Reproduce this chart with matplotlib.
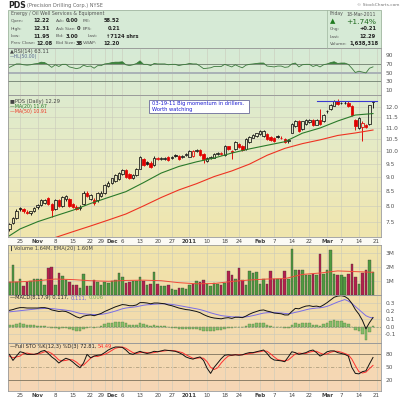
import numpy as np
import pandas as pd
import matplotlib
matplotlib.use('Agg')
import matplotlib.pyplot as plt
from matplotlib.patches import Rectangle

plt.rcParams['font.family'] = ['DejaVu Sans']

# trading calendar Oct 20 2010 .. Mar 21 2011 (Mar 21 only carries the last tick)
holidays = ['2010-11-25', '2010-12-24', '2011-01-17', '2011-02-21']
days = pd.bdate_range('2010-10-20', '2011-03-21', freq='C', holidays=holidays)

tick_dates = ['2010-10-25', '2010-11-01', '2010-11-08', '2010-11-15', '2010-11-22', '2010-11-29',
              '2010-12-01', '2010-12-06', '2010-12-13', '2010-12-20', '2010-12-27', '2011-01-03',
              '2011-01-10', '2011-01-18', '2011-01-24', '2011-02-01', '2011-02-07', '2011-02-14',
              '2011-02-22', '2011-03-01', '2011-03-07', '2011-03-14', '2011-03-21']
tick_labels = ['25', 'Nov', '8', '15', '22', '29', 'Dec', '6', '13', '20', '27', '2011',
               '10', '18', '24', 'Feb', '7', '14', '22', 'Mar', '7', '14', '21']
bold_labels = ['Nov', 'Dec', '2011', 'Feb', 'Mar']

# daily OHLC, Oct 20 .. Mar 18
opens = [7.27, 7.46, 7.62,
         7.93, 7.90, 7.80, 7.76, 7.84, 7.95, 8.04, 8.10, 8.26, 8.05,
         7.90, 8.20, 8.00, 8.22, 8.22, 8.06, 7.98, 7.92, 8.05, 8.45,
         8.22, 8.20, 8.18, 8.32, 8.42, 8.68, 8.78, 8.85, 8.92, 9.10,
         9.26, 9.10, 8.98, 9.08, 9.32, 9.70, 9.58, 9.55, 9.45, 9.68,
         9.70, 9.70, 9.78, 9.74, 9.86, 9.82, 9.78, 9.85, 9.78, 9.80,
         10.02, 10.04, 9.90, 9.62, 9.72, 9.74, 9.88, 9.90, 9.85, 10.20,
         10.02, 10.10, 10.32, 10.22, 10.10, 10.38, 10.58, 10.66, 10.73, 10.63,
         10.73, 10.62, 10.58, 10.66, 10.55, 10.52, 10.42, 10.80, 11.10, 11.32,
         10.95, 11.18, 11.28, 11.35, 11.15, 11.38, 11.30, 11.80, 11.90, 12.05,
         12.27, 12.20, 12.18, 12.20, 12.05, 11.38, 10.98, 11.05, 11.12, 11.20, 12.22]
highs = [7.45, 7.66, 7.90,
         7.98, 7.94, 7.86, 7.85, 7.96, 8.05, 8.24, 8.22, 8.30, 8.08,
         8.22, 8.24, 8.34, 8.36, 8.26, 8.10, 8.02, 8.02, 8.50, 8.52,
         8.40, 8.26, 8.48, 8.50, 8.76, 8.85, 8.98, 9.12, 9.20, 9.32,
         9.30, 9.14, 9.10, 9.34, 9.82, 9.74, 9.62, 9.60, 9.80, 9.78,
         9.76, 9.78, 9.82, 9.82, 9.90, 9.86, 9.86, 9.94, 10.06, 10.04,
         10.10, 10.08, 9.94, 9.76, 9.80, 9.94, 9.96, 9.96, 10.28, 10.24,
         10.06, 10.42, 10.36, 10.26, 10.54, 10.64, 10.72, 10.80, 10.90, 10.92,
         10.78, 10.66, 10.62, 10.70, 10.64, 10.56, 10.52, 11.22, 11.36, 11.36,
         11.34, 11.42, 11.42, 11.40, 11.40, 11.90, 11.66, 11.86, 12.14, 12.32,
         12.38, 12.24, 12.26, 12.26, 12.08, 11.42, 11.50, 11.30, 11.18, 12.10, 12.31]
lows = [7.22, 7.44, 7.58,
        7.84, 7.78, 7.74, 7.72, 7.80, 7.90, 8.00, 8.06, 8.02, 7.65,
        7.86, 7.96, 7.96, 8.16, 7.96, 7.94, 7.86, 7.88, 8.02, 8.28,
        8.18, 8.04, 8.14, 8.28, 8.40, 8.64, 8.74, 8.82, 8.90, 9.06,
        8.98, 8.94, 8.92, 9.04, 9.30, 9.42, 9.44, 9.34, 9.42, 9.64,
        9.66, 9.66, 9.62, 9.70, 9.78, 9.66, 9.74, 9.82, 9.76, 9.78,
        9.96, 9.82, 9.55, 9.58, 9.68, 9.72, 9.84, 9.86, 9.82, 10.06,
        9.70, 10.06, 10.12, 10.00, 10.06, 10.34, 10.54, 10.62, 10.70, 10.60,
        10.48, 10.44, 10.40, 10.58, 10.50, 10.34, 10.36, 10.76, 11.06, 10.84,
        10.90, 11.14, 11.24, 11.10, 11.12, 11.14, 11.26, 11.72, 11.86, 12.02,
        12.08, 12.12, 12.14, 12.00, 11.56, 10.90, 10.95, 10.45, 10.98, 11.15, 11.95]
closes = [7.42, 7.62, 7.85,
          7.90, 7.82, 7.78, 7.82, 7.92, 8.02, 8.18, 8.18, 8.05, 7.88,
          8.18, 8.00, 8.30, 8.32, 8.00, 7.98, 7.90, 7.98, 8.45, 8.32,
          8.35, 8.08, 8.45, 8.45, 8.72, 8.80, 8.95, 9.08, 9.15, 9.26,
          9.02, 8.98, 9.06, 9.30, 9.77, 9.45, 9.48, 9.38, 9.75, 9.72,
          9.72, 9.73, 9.65, 9.78, 9.82, 9.70, 9.82, 9.90, 10.02, 10.00,
          10.06, 9.86, 9.68, 9.72, 9.76, 9.90, 9.93, 9.92, 10.24, 10.10,
          9.97, 10.38, 10.17, 10.04, 10.50, 10.60, 10.68, 10.78, 10.86, 10.88,
          10.52, 10.48, 10.45, 10.62, 10.58, 10.38, 10.48, 11.17, 11.32, 10.88,
          11.30, 11.38, 11.38, 11.13, 11.35, 11.17, 11.62, 11.78, 12.10, 12.28,
          12.12, 12.18, 12.20, 12.05, 11.60, 11.10, 11.45, 11.22, 11.05, 12.08, 12.29]
volume_m = [0.93, 2.10, 0.93,
            1.10, 0.65, 0.92, 0.95, 1.15, 1.15, 1.15, 0.70, 1.90, 1.95,
            0.70, 1.55, 1.35, 1.05, 0.90, 0.70, 0.70, 0.45, 1.45, 0.65,
            0.65, 1.05, 0.90, 0.70, 0.90, 0.85, 0.95, 1.05, 1.55, 1.30,
            0.85, 0.90, 0.95, 1.00, 1.30, 0.95, 0.70, 0.80, 1.65, 0.80,
            0.65, 0.60, 0.70, 0.40, 0.35, 0.45, 0.50, 0.42, 0.70, 0.80,
            1.00, 0.93, 1.05, 0.80, 0.60, 0.85, 0.75, 0.70, 0.85, 1.70,
            1.40, 1.10, 1.90, 1.05, 0.70, 1.70, 1.55, 1.60, 0.80, 1.10,
            0.75, 1.70, 1.15, 1.10, 1.15, 1.70, 1.15, 3.30, 1.80, 1.75,
            1.75, 1.40, 1.40, 1.50, 1.40, 2.90, 1.50, 1.75, 3.20, 1.50,
            1.40, 1.40, 1.30, 1.50, 2.20, 1.30, 0.76, 1.57, 1.76, 2.50, 1.64]
rsi = [62, 66, 70,
       70, 68, 67, 68, 70, 71, 74, 73, 68, 62,
       68, 64, 69, 69, 63, 61, 59, 61, 67, 64,
       65, 60, 66, 66, 70, 71, 73, 74, 74, 75,
       68, 66, 68, 71, 77, 69, 69, 66, 71, 70,
       70, 70, 68, 69, 69, 66, 68, 69, 71, 70,
       70, 65, 59, 60, 61, 64, 64, 64, 69, 66,
       63, 68, 64, 61, 67, 69, 70, 71, 72, 72,
       65, 64, 63, 65, 65, 62, 63, 70, 72, 63,
       68, 69, 69, 64, 67, 63, 68, 70, 73, 75,
       71, 72, 72, 69, 60, 50, 53, 51, 49, 60, 63.11]
macd = [0.210, 0.220, 0.235,
        0.245, 0.245, 0.240, 0.240, 0.240, 0.240, 0.245, 0.245, 0.235, 0.215,
        0.205, 0.195, 0.200, 0.195, 0.175, 0.150, 0.125, 0.110, 0.135, 0.145,
        0.150, 0.140, 0.155, 0.170, 0.195, 0.215, 0.235, 0.255, 0.270, 0.285,
        0.280, 0.270, 0.270, 0.280, 0.310, 0.310, 0.305, 0.295, 0.305, 0.305,
        0.300, 0.295, 0.280, 0.270, 0.255, 0.240, 0.230, 0.220, 0.215, 0.205,
        0.195, 0.180, 0.155, 0.135, 0.120, 0.110, 0.105, 0.100, 0.110, 0.115,
        0.105, 0.120, 0.120, 0.115, 0.135, 0.160, 0.180, 0.195, 0.210, 0.215,
        0.200, 0.190, 0.175, 0.170, 0.165, 0.150, 0.150, 0.195, 0.235, 0.230,
        0.250, 0.265, 0.270, 0.260, 0.265, 0.255, 0.280, 0.310, 0.345, 0.380,
        0.395, 0.400, 0.390, 0.360, 0.300, 0.220, 0.160, 0.080, -0.030, 0.050, 0.117]
signal = [0.190, 0.195, 0.200,
          0.205, 0.210, 0.215, 0.220, 0.225, 0.230, 0.232, 0.235, 0.235, 0.232,
          0.228, 0.222, 0.218, 0.212, 0.205, 0.195, 0.183, 0.170, 0.165, 0.160,
          0.158, 0.155, 0.155, 0.158, 0.165, 0.175, 0.187, 0.200, 0.215, 0.230,
          0.240, 0.246, 0.251, 0.257, 0.267, 0.276, 0.282, 0.285, 0.289, 0.292,
          0.294, 0.294, 0.291, 0.287, 0.280, 0.272, 0.264, 0.255, 0.247, 0.238,
          0.230, 0.220, 0.207, 0.193, 0.178, 0.165, 0.153, 0.142, 0.136, 0.132,
          0.126, 0.125, 0.124, 0.122, 0.125, 0.132, 0.142, 0.152, 0.164, 0.174,
          0.179, 0.181, 0.180, 0.178, 0.175, 0.170, 0.166, 0.172, 0.184, 0.193,
          0.205, 0.217, 0.228, 0.234, 0.240, 0.243, 0.250, 0.262, 0.279, 0.299,
          0.318, 0.334, 0.350, 0.330, 0.300, 0.260, 0.220, 0.180, 0.140, 0.120, 0.111]
sto_k = [80, 66, 76,
         86, 84, 80, 80, 80, 82, 87, 89, 82, 74,
         68, 60, 66, 71, 68, 62, 55, 49, 60, 80,
         72, 76, 78, 79, 84, 90, 94, 97, 97, 96,
         90, 82, 80, 84, 87, 84, 82, 84, 87, 86,
         88, 90, 89, 88, 87, 84, 80, 74, 71, 69,
         72, 74, 66, 48, 36, 50, 60, 70, 78, 79,
         78, 79, 78, 79, 82, 84, 84, 86, 88, 90,
         82, 72, 67, 66, 65, 63, 74, 86, 84, 80,
         82, 84, 88, 90, 84, 76, 80, 86, 88, 88,
         84, 82, 80, 76, 50, 36, 35, 40, 42, 58, 72.81]
sto_d = [76, 72, 74,
         76, 82, 83, 81, 80, 81, 83, 86, 86, 82,
         75, 67, 65, 66, 68, 67, 62, 55, 55, 63,
         71, 76, 75, 78, 80, 84, 89, 94, 96, 97,
         94, 89, 84, 82, 84, 85, 84, 83, 84, 86,
         87, 88, 89, 89, 88, 86, 84, 79, 75, 71,
         71, 72, 71, 63, 50, 45, 49, 60, 69, 76,
         78, 79, 79, 79, 80, 82, 83, 85, 86, 88,
         87, 81, 74, 68, 66, 65, 67, 74, 81, 83,
         82, 82, 85, 87, 87, 83, 80, 81, 85, 87,
         87, 85, 82, 79, 69, 54, 40, 37, 39, 47, 54.49]

# smooth overlays read every 5 trading days (day positions from Oct 20)
sample_pos = [0] + list(range(3, 104, 5))
ma20 = [7.08, 7.28, 7.50, 7.68, 7.86, 8.08, 8.28, 8.48, 8.80, 9.15, 9.40,
        9.58, 9.73, 9.93, 10.10, 10.25, 10.40, 10.77, 11.00, 11.32, 11.60, 11.67]
ma50 = [7.03, 7.20, 7.37, 7.55, 7.74, 8.00, 8.28, 8.54, 8.76, 9.02,
        9.23, 9.49, 9.84, 10.12, 10.32, 10.48, 10.67, 10.78, 10.91]
vol_ema = [0.90, 0.92, 1.00, 1.12, 1.08, 1.00, 0.96, 1.02, 1.04, 1.00, 0.86,
           0.78, 0.80, 0.95, 1.05, 1.12, 1.15, 1.45, 1.55, 1.70, 1.65, 1.60]

info_left = [('Open:', '12.22', 'Ask:', '0.00', 'P/E:', '58.52'),
             ('High:', '12.31', 'Ask Size:', '0', 'EPS:', '0.21'),
             ('Low:', '11.95', 'Bid:', '3.00', 'Last:', '\u21917124 shrs'),
             ('Prev Close:', '12.08', 'Bid Size:', '38', 'VWAP:', '12.20')]
info_right = [('Chg:', '+0.21'), ('Last:', '12.29'), ('Volume:', '1,638,318')]

# ---------------------------------------------------------------------------
W = H = 400
fig = plt.figure(figsize=(4, 4), dpi=100)
fig.patch.set_facecolor('white')
renderer = fig.canvas.get_renderer()


def rect(x0, y0, x1, y1):
    return [x0 / W, 1 - y1 / H, (x1 - x0) / W, (y1 - y0) / H]


def ftext(x, y, s, **kw):
    kw.setdefault('fontsize', 3.7)
    kw.setdefault('va', 'center')
    return fig.text(x / W, 1 - y / H, s, **kw)


def width(t):
    return t.get_window_extent(renderer).width


def seq_text(x, y, parts, **kw):
    # pieces of one legend line in different colours, placed one after the other
    for s, col in parts:
        t = ftext(x, y, s, color=col, **kw)
        x += width(t) + 1.6


def label_value(x_lab, x_val, y, lab, val):
    # grey label, bold value right-aligned on its column (pushed right if needed)
    t = ftext(x_lab, y, lab, color='#555555', fontsize=3.2)
    v = ftext(x_val, y, val, color='#222222', fontweight='bold', ha='right', fontsize=3.7)
    need = x_lab + width(t) + 1.5 + width(v)
    if need > x_val:
        v.set_x(need / W)


X0, X1 = 8, 381
pos = np.arange(len(closes))
xlim = ((X0 - 9.41) / 3.53, (X1 - 9.41) / 3.53)
tick_pos = [days.get_loc(pd.Timestamp(d)) for d in tick_dates]

# background gradient (green at top to peach at bottom)
bg = fig.add_axes(rect(X0, 48, X1, 391), zorder=0)
stops_y = [0, 47, 120, 192, 250, 343]
stops_c = np.array([[214, 234, 214], [221, 235, 207], [234, 234, 192],
                    [240, 229, 172], [242, 222, 170], [246, 214, 182]]) / 255
yy = np.arange(343)
grad = np.stack([np.interp(yy, stops_y, stops_c[:, k]) for k in range(3)], axis=-1)
bg.imshow(grad[:, None, :], aspect='auto', extent=(0, 1, 0, 1))
bg.axis('off')

# date strip between price and volume
fig.patches.append(Rectangle((X0 / W, 1 - 245 / H), (X1 - X0) / W, 8 / H,
                             transform=fig.transFigure, facecolor='#fbfaf4',
                             edgecolor='none', zorder=1))

# header box
fig.patches.append(Rectangle((X0 / W, 1 - 48 / H), (X1 - X0) / W, 38 / H,
                             transform=fig.transFigure, facecolor='#d6ead6',
                             edgecolor='#9fb59f', lw=0.6, zorder=1))
fig.lines.append(plt.Line2D([327 / W, 327 / W], [1 - 48 / H, 1 - 10 / H],
                            transform=fig.transFigure, color='#9fb59f', lw=0.5))

GRID = '#c9c9bb'


def panel(y0, y1, ylim, yticks, yticklabels, log=False):
    ax = fig.add_axes(rect(X0, y0, X1, y1), zorder=2)
    ax.set_facecolor('none')
    if log:
        ax.set_yscale('log')
    ax.set_xlim(*xlim)
    ax.set_ylim(*ylim)
    ax.set_yticks(yticks)
    ax.set_yticklabels(yticklabels)
    ax.minorticks_off()
    ax.yaxis.tick_right()
    ax.set_xticks(tick_pos)
    ax.tick_params(axis='y', length=0, pad=3, labelsize=4.2, labelcolor='#555555')
    ax.tick_params(axis='x', length=0, pad=1.2, labelsize=4.0, labelcolor='#444444',
                   labelbottom=False)
    ax.grid(True, color=GRID, lw=0.4)
    ax.set_axisbelow(True)
    for s in ax.spines.values():
        s.set_color('#9a9a9a')
        s.set_linewidth(0.6)
    return ax


def date_labels(ax):
    ax.tick_params(axis='x', labelbottom=True)
    ax.set_xticklabels(tick_labels)
    for t in ax.get_xticklabels():
        if t.get_text() in bold_labels:
            t.set_fontweight('bold')
        if t.get_text() == '29':
            t.set_horizontalalignment('right')


# ---- RSI -------------------------------------------------------------------
ax_r = panel(48, 95, (-2.3, 107), [90, 70, 50, 30, 10], ['90', '70', '50', '30', '10'])
ax_r.grid(False, axis='y')
ax_r.axhline(70, color='#6f7f6f', lw=0.6)
ax_r.axhline(30, color='#6f7f6f', lw=0.6)
ax_r.axhline(50, color='#a9b1b6', lw=1.4)
ax_r.plot(pos, rsi, color='#3d7a3d', lw=0.6)
r = np.array(rsi, dtype=float)
ax_r.fill_between(pos, 70, r, where=r > 70, interpolate=True, color='#2f7d2f', lw=0)

# ---- Price -----------------------------------------------------------------
price_ticks = [12.0, 11.5, 11.0, 10.5, 10.0, 9.5, 9.0, 8.5, 8.0, 7.5]
ax_p = panel(95, 237, (7.045, 12.59), price_ticks, ['%.1f' % v for v in price_ticks], log=True)
date_labels(ax_p)
BLACK, RED = '#111111', '#e00000'
bw = 0.7
for i in pos:
    o, h, l, c = opens[i], highs[i], lows[i], closes[i]
    col = RED if i > 0 and c < closes[i - 1] else BLACK
    lo_b, hi_b = min(o, c), max(o, c)
    ax_p.plot([i, i], [l, lo_b], color=col, lw=0.65, solid_capstyle='butt')
    ax_p.plot([i, i], [hi_b, h], color=col, lw=0.65, solid_capstyle='butt')
    ax_p.add_patch(Rectangle((i - bw / 2, lo_b), bw, max(hi_b - lo_b, 0.01),
                             facecolor=col if c < o else 'none', edgecolor=col, lw=0.55))
ax_p.plot(sample_pos, ma20, color='#2a7a2a', lw=0.8)
ax_p.plot(sample_pos[3:], ma50, color='#ee3322', lw=0.8)
ax_p.plot([87, 104], [12.30, 12.30], color='#3a3ad0', lw=0.8)

# ---- Volume ----------------------------------------------------------------
ax_v = panel(245, 295, (-0.02, 3.55), [3, 2, 1], ['3M', '2M', '1M'])
vcols = ['#4f9b3f' if i == 0 or closes[i] >= closes[i - 1] else '#b5204d' for i in pos]
ax_v.bar(pos, volume_m, width=0.72, color=vcols, edgecolor='#3a3a3a', lw=0.25)
ax_v.plot(sample_pos, vol_ema, color='#f04a3a', lw=0.7)

# ---- MACD ------------------------------------------------------------------
ax_m = panel(295, 343, (-0.214, 0.409), [0.3, 0.2, 0.1, 0.0, -0.1],
             ['0.3', '0.2', '0.1', '0.0', '-0.1'])
hist = np.array(macd) - np.array(signal)
ax_m.bar(pos, hist, width=0.72, color='#86bd6a', edgecolor='#4c7d3a', lw=0.25)
ax_m.axhline(0, color='#8a9a70', lw=0.5, ls=(0, (3, 2)))
ax_m.plot(pos, signal, color='#7b6ee6', lw=0.7)
ax_m.plot(pos, macd, color='#111111', lw=0.7)

# ---- Full STO --------------------------------------------------------------
ax_s = panel(343, 391, (-4.6, 106.2), [80, 50, 20], ['80', '50', '20'])
ax_s.grid(False, axis='y')
ax_s.axhline(80, color='#8d8068', lw=0.7)
ax_s.axhline(20, color='#8d8068', lw=0.7)
ax_s.axhline(50, color='#b0a080', lw=0.6, ls=(0, (4, 2, 1, 2)))
ax_s.plot(pos, sto_d, color='#ff3030', lw=0.7)
ax_s.plot(pos, sto_k, color='#111111', lw=0.7)
date_labels(ax_s)

# ---- texts -----------------------------------------------------------------
t_pds = ftext(8, 5, 'PDS', fontsize=5.6, fontweight='bold', color='#222222')
ftext(8 + width(t_pds) + 1.5, 5.3, '(Precision Drilling Corp.) NYSE', fontsize=3.6,
      color='#666666')
ftext(399, 4.5, '\u00a9 StockCharts.com', fontsize=3.2, color='#777777', ha='right')
ftext(11, 13.3, 'Energy / Oil Well Services & Equipment', color='#555555', fontsize=3.4)
rows_y = [21, 28.6, 36, 43.4]
for (l1, v1, l2, v2, l3, v3), y in zip(info_left, rows_y):
    label_value(11, 50, y, l1, v1)
    label_value(55.5, 73, y, l2, v2)
    if l3 == 'Last:':
        label_value(88, 139, y, l3, v3)
    else:
        label_value(83, 120, y, l3, v3)
ftext(330, 14, 'Friday', color='#555555', fontsize=3.3)
ftext(376, 14, '18-Mar-2011', color='#555555', ha='right', fontsize=3.3)
ftext(330, 21.6, '\u25b2', color='#1f7a1f', fontsize=5)
ftext(376, 21.6, '+1.74%', color='#1f6a1f', fontsize=5.4, ha='right')
for (lab, val), y in zip(info_right, [29, 36.5, 44]):
    label_value(330, 376, y, lab, val)

ftext(10, 51.8, '\u25b2RSI(14) 63.11', color='#444444', fontsize=3.7)
ftext(10, 56.4, '\u2014HL(50.00)', color='#5a6a90', fontsize=3.3)
ftext(10, 101.2, '\u25a0PDS (Daily) 12.29', color='#444444', fontsize=3.7)
ftext(10, 106.3, '\u2014MA(20) 11.67', color='#2a7a2a', fontsize=3.4)
ftext(10, 111.3, '\u2014MA(50) 10.91', color='#ee3322', fontsize=3.4)
fig.patches.append(Rectangle((149 / W, 1 - 113 / H), 100 / W, 13.3 / H,
                             transform=fig.transFigure, facecolor='white',
                             edgecolor='#6a6a9a', lw=0.6, zorder=3))
ftext(151.5, 103.2, '03-19-11 Big momentum in drillers.', color='#1a1ad0',
      fontsize=3.7, zorder=4)
ftext(151.5, 109.2, 'Worth watching', color='#1a1ad0', fontsize=3.7, zorder=4)
ftext(10, 248.6, '\u258eVolume 1.64M, EMA(20) 1.60M', color='#444444', fontsize=3.7)
seq_text(10, 297.8, [('\u2014MACD(8,17,9) 0.117,', '#222222'), ('0.111,', '#6a5fe0'),
                     ('0.006', '#6fae50')], fontsize=3.7)
seq_text(10, 346.8, [('\u2014Full STO %K(12,3) %D(3) 72.81,', '#222222'),
                     ('54.49', '#ff3030')], fontsize=3.7)

fig.savefig('out.png', dpi=100)
